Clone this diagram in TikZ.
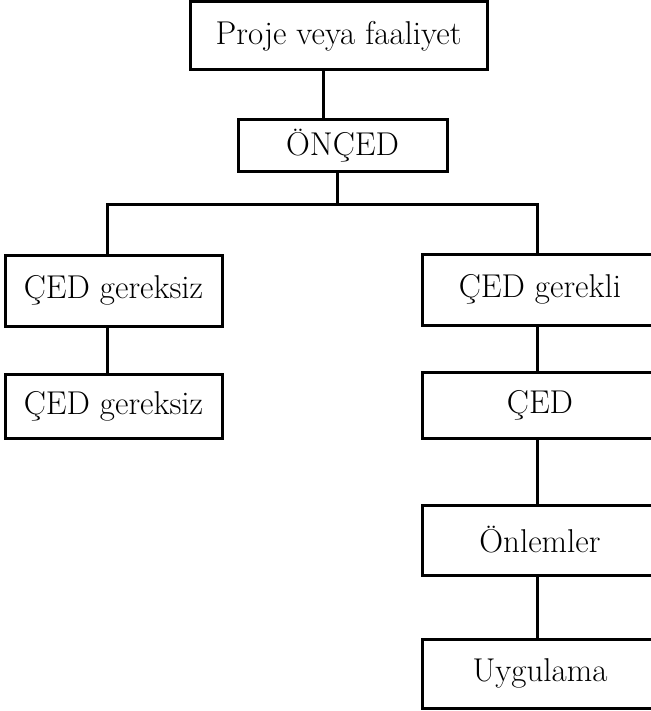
\documentclass[tikz,border=0pt]{standalone}
\usepackage{tikz}
\usetikzlibrary{positioning, calc}

\tikzset{kutu/.style={draw, line width=1.5pt, rectangle, inner sep=0pt, font=\fontsize{16.5}{19}\selectfont}}

\begin{document}
\begin{tikzpicture}[x=0.5pt, y=-0.5pt, line width=1.5pt]
    \useasboundingbox (0,0) rectangle (650,711);
    \node [kutu, minimum width=148.5pt, minimum height=34pt] (proje) at (338.5,36) { Proje veya faaliyet };
    \node [kutu, minimum width=104.5pt, minimum height=26pt] (onced) at (342.5,146) { ÖNÇED };
    \node [kutu, minimum width=108.5pt, minimum height=35.5pt] (gereksiz1) at (113.5,290.5) { ÇED gereksiz };
    \node [kutu, minimum width=108.5pt, minimum height=32pt] (gereksiz2) at (113.5,406) { ÇED gereksiz };
    \node [kutu, minimum width=118pt, minimum height=35.5pt] (gerekli) at (540,289.5) { ÇED gerekli };
    \node [kutu, minimum width=118pt, minimum height=33pt] (ced) at (540,405) { ÇED };
    \node [kutu, minimum width=118pt, minimum height=35pt] (onlem) at (540,540) { Önlemler };
    \node [kutu, minimum width=118pt, minimum height=34.5pt] (uygula) at (540,673.5) { Uygulama };
    \coordinate (ayrim) at (337,205);

    \draw ([xshift=-7.75pt]proje.south) -- ([xshift=-9.75pt]onced.north);
    \draw ([xshift=-2.75pt]onced.south) -- (ayrim);
    \draw (ayrim) -| ([xshift=-3.25pt]gereksiz1.north);
    \draw ([xshift=-3.25pt]gereksiz1.south) -- ([xshift=-3.25pt]gereksiz2.north);
    \draw (ayrim) -| ([xshift=-1.5pt]gerekli.north);
    \draw ([xshift=-1.5pt]gerekli.south) -- ([xshift=-1.5pt]ced.north);
    \draw ([xshift=-1.5pt]ced.south) -- ([xshift=-1.5pt]onlem.north);
    \draw ([xshift=-1.5pt]onlem.south) -- ([xshift=-1.5pt]uygula.north);
  \end{tikzpicture}
\end{document}
